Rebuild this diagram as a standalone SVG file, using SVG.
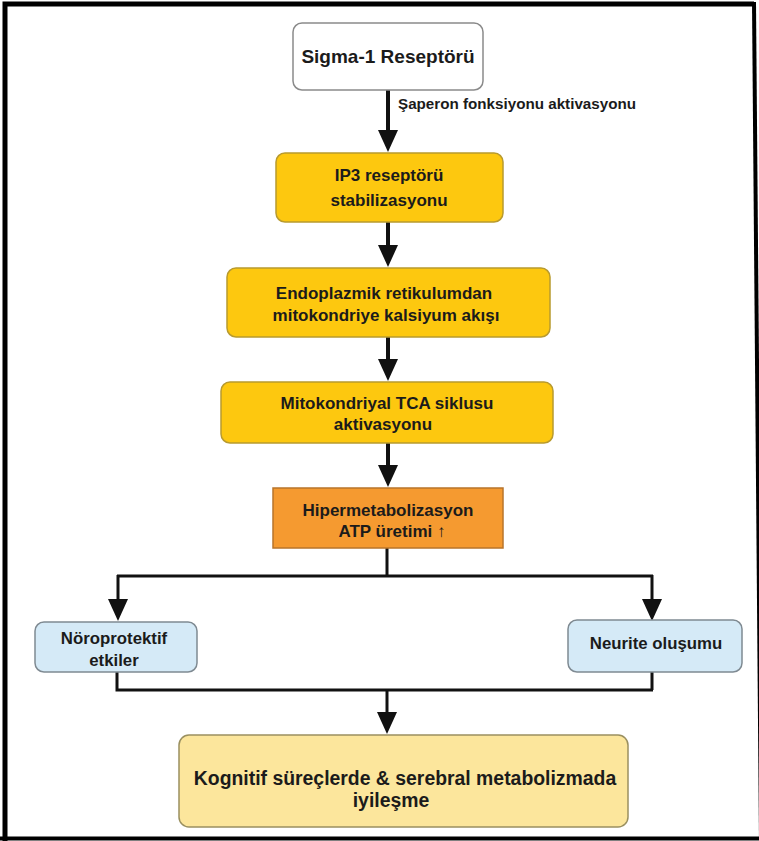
<svg xmlns="http://www.w3.org/2000/svg" width="759" height="841" viewBox="0 0 759 841">
<style>
  text { font-family: "Liberation Sans", Arial, sans-serif; font-weight: bold; fill: #1b1b1b; text-anchor: middle; }
  .gold { fill: #FDC80F; stroke: #B89A2E; stroke-width: 1.5; }
  .orange { fill: #F59A30; stroke: #B8742A; stroke-width: 1.5; }
  .blue { fill: #D5EAF7; stroke: #7F8A92; stroke-width: 1.5; }
  .cream { fill: #FCE69C; stroke: #9A9060; stroke-width: 1.5; }
  .white { fill: #FFFFFF; stroke: #8A8A8A; stroke-width: 1.5; }
  .ln { fill: none; stroke: #111; stroke-width: 4; }
  .br { fill: none; stroke: #111; stroke-width: 3; }
  .t17 { font-size: 17px; }
</style>
<defs>
  <marker id="ah" markerUnits="userSpaceOnUse" markerWidth="24" markerHeight="20" refX="0" refY="10" orient="auto" overflow="visible">
    <path d="M0,0 L22,10 L0,20 Z" fill="#111"/>
  </marker>
</defs>
<rect width="759" height="841" fill="#ffffff"/>
<g id="frame">
  <path d="M5,841 L5,4 L754,4" fill="none" stroke="#000" stroke-width="5"/>
  <line x1="0" y1="838.5" x2="759" y2="838.5" stroke="#000" stroke-width="4"/>
  <line x1="754" y1="2" x2="761" y2="841" stroke="#000" stroke-width="4"/>
</g>
<g id="connectors">
  <line class="ln" x1="388" y1="90" x2="388" y2="130" marker-end="url(#ah)"/>
  <line class="ln" x1="388" y1="222" x2="388" y2="245" marker-end="url(#ah)"/>
  <line class="ln" x1="388" y1="337" x2="388" y2="359" marker-end="url(#ah)"/>
  <line class="ln" x1="388" y1="443" x2="388" y2="465" marker-end="url(#ah)"/>
  <path class="br" d="M387,548 L387,576 M117,576 L653,576"/>
  <line class="br" x1="118" y1="575" x2="118" y2="599" marker-end="url(#ah)"/>
  <line class="br" x1="652" y1="575" x2="652" y2="599" marker-end="url(#ah)"/>
  <path class="br" d="M117,672 L117,690 L653,690 M652,672 L652,690"/>
  <line class="br" x1="387" y1="689" x2="387" y2="712" marker-end="url(#ah)"/>
  <text x="398" y="109" style="font-size:15.2px;text-anchor:start">Şaperon fonksiyonu aktivasyonu</text>
</g>
<g id="sigma1">
  <rect class="white" x="293" y="23" width="190" height="67" rx="9"/>
  <text x="388" y="63" style="font-size:19px">Sigma-1 Reseptörü</text>
</g>
<g id="ip3">
  <rect class="gold" x="276" y="153" width="227" height="69" rx="9"/>
  <text class="t17" x="389" y="181">IP3 reseptörü</text>
  <text class="t17" x="389" y="206">stabilizasyonu</text>
</g>
<g id="endoplazmik">
  <rect class="gold" x="227" y="268" width="323" height="69" rx="9"/>
  <text class="t17" x="384" y="299">Endoplazmik retikulumdan</text>
  <text class="t17" x="386" y="321">mitokondriye kalsiyum akışı</text>
</g>
<g id="tca">
  <rect class="gold" x="221" y="382" width="332" height="61" rx="9"/>
  <text class="t17" x="387" y="409">Mitokondriyal TCA siklusu</text>
  <text class="t17" x="383" y="430">aktivasyonu</text>
</g>
<g id="hiper">
  <rect class="orange" x="273" y="488" width="230" height="60"/>
  <text class="t17" x="388" y="516">Hipermetabolizasyon</text>
  <text class="t17" x="392" y="537">ATP üretimi ↑</text>
</g>
<g id="noroprotektif">
  <rect class="blue" x="35" y="622" width="162" height="50" rx="9"/>
  <text x="114" y="644" style="font-size:16.8px">Nöroprotektif</text>
  <text x="114" y="666" style="font-size:16.8px">etkiler</text>
</g>
<g id="neurite">
  <rect class="blue" x="568" y="620" width="174" height="52" rx="9"/>
  <text x="656" y="649" style="font-size:16.8px">Neurite oluşumu</text>
</g>
<g id="kognitif">
  <rect class="cream" x="179" y="735" width="449" height="92" rx="10"/>
  <text x="405" y="785" style="font-size:19.4px">Kognitif süreçlerde &amp; serebral metabolizmada</text>
  <text x="391" y="807" style="font-size:19.4px">iyileşme</text>
</g>
</svg>
